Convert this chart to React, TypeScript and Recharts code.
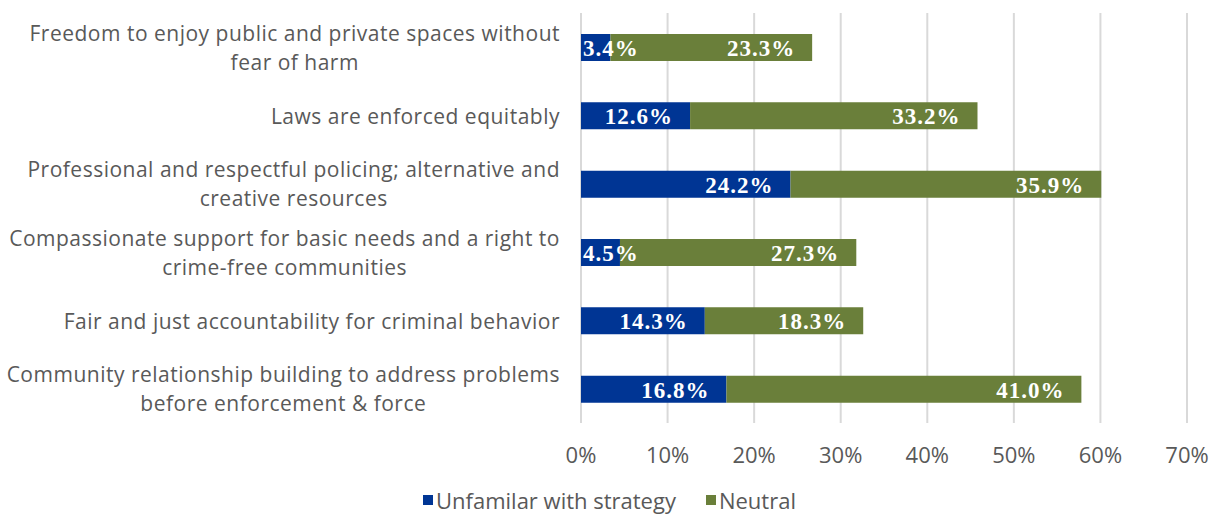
import React from "react"
import { Bar, BarChart, CartesianGrid, LabelList, XAxis, YAxis } from "recharts"

document.body.style.margin = "0"

const categoryLines = [
  ["Freedom to enjoy public and private spaces without", "fear of harm"],
  ["Laws are enforced equitably"],
  ["Professional and respectful policing; alternative and", "creative resources"],
  ["Compassionate support for basic needs and a right to", "crime-free communities"],
  ["Fair and just accountability for criminal behavior"],
  ["Community relationship building to address problems", "before enforcement & force"],
]
const categories = categoryLines.map((l) => l.join(" "))
const unfamiliar = [3.4, 12.6, 24.2, 4.5, 14.3, 16.8]
const neutral = [23.3, 33.2, 35.9, 27.3, 18.3, 41.0]
const xTicks = [0, 10, 20, 30, 40, 50, 60, 70]
const seriesNames = ["Unfamilar with strategy", "Neutral"]

const BLUE = "#003594"
const GREEN = "#6a7f3a"
const TEXT = "#595959"
const SANS = "'Open Sans', Lato, sans-serif"
const SERIF = "'Liberation Serif', 'DejaVu Serif', serif"

const data = categories.map((name, i) => ({
  name,
  unfamiliar: unfamiliar[i],
  neutral: neutral[i],
}))

let ctx: CanvasRenderingContext2D | null = null
function measure(text: string, font: string, spacing = 0) {
  if (!ctx) ctx = document.createElement("canvas").getContext("2d")
  if (!ctx) return text.length * 10
  ctx.font = font
  return ctx.measureText(text).width + spacing * text.length
}

const CAT_SIZE = 21
const CAT_SPACING = 0.5
const LABEL_SIZE = 23
const LABEL_SPACING = 1

// wrapped category label, lines centred on each other, block right-aligned to the plot
function CategoryTick(props: any) {
  const { y, payload } = props
  const idx = categories.indexOf(payload.value)
  const lines = categoryLines[idx] || [payload.value]
  const widths = lines.map((l) => measure(l, `${CAT_SIZE}px ${SANS}`, CAT_SPACING))
  const maxW = Math.max(...widths)
  const cx = 560 - maxW / 2
  const lh = 29
  const start = y - ((lines.length - 1) * lh) / 2
  return (
    <g>
      {lines.map((l, i) => (
        <text
          key={i}
          x={cx}
          y={start + i * lh}
          textAnchor="middle"
          dominantBaseline="central"
          fill={TEXT}
          fontSize={CAT_SIZE}
          fontFamily={SANS}
          letterSpacing={CAT_SPACING}
        >
          {l}
        </text>
      ))}
    </g>
  )
}

function SegmentLabel(props: any) {
  const { x, y, width, height, value } = props
  const text = `${Number(value).toFixed(1)}%`
  const tw = measure(text, `bold ${LABEL_SIZE}px ${SERIF}`, LABEL_SPACING)
  const pad = 17
  const fits = width >= tw + pad + 2
  const tx = fits ? x + width - pad : x + 2
  return (
    <text
      x={tx}
      y={y + height / 2 + 1}
      textAnchor={fits ? "end" : "start"}
      dominantBaseline="central"
      fill="#ffffff"
      fontSize={LABEL_SIZE}
      fontWeight="bold"
      fontFamily={SERIF}
      letterSpacing={LABEL_SPACING}
    >
      {text}
    </text>
  )
}

function ChartLegend() {
  const colors = [BLUE, GREEN]
  return (
    <div
      style={{
        position: "absolute",
        top: 486,
        left: 0,
        width: 1219,
        display: "flex",
        justifyContent: "center",
        gap: 30,
        fontFamily: SANS,
        fontSize: 22,
        lineHeight: "28px",
        color: TEXT,
      }}
    >
      {seriesNames.map((label, i) => (
        <div key={label} style={{ display: "flex", alignItems: "center" }}>
          <span style={{ display: "inline-block", width: 10, height: 10, background: colors[i], marginRight: 3 }} />
          <span>{label}</span>
        </div>
      ))}
    </div>
  )
}

export default function App() {
  return (
    <div style={{ position: "relative", width: 1219, height: 515 }}>
      <BarChart
        width={1219}
        height={515}
        data={data}
        layout="vertical"
        margin={{ top: 13, right: 32, left: 0, bottom: 62 }}
      >
        <CartesianGrid horizontal={false} stroke="#d9d9d9" strokeWidth={2} />
        <XAxis
          type="number"
          domain={[0, 70]}
          ticks={xTicks}
          tickFormatter={(v) => `${v}%`}
          axisLine={false}
          tickLine={false}
          tickMargin={18}
          height={30}
          tick={{ fill: TEXT, fontSize: 22, fontFamily: SANS }}
          interval={0}
        />
        <YAxis
          type="category"
          dataKey="name"
          width={581}
          axisLine={false}
          tickLine={false}
          tick={<CategoryTick />}
          interval={0}
        />
        <Bar dataKey="unfamiliar" stackId="a" fill={BLUE} barSize={27} isAnimationActive={false} name={seriesNames[0]}>
          <LabelList dataKey="unfamiliar" content={<SegmentLabel />} />
        </Bar>
        <Bar dataKey="neutral" stackId="a" fill={GREEN} barSize={27} isAnimationActive={false} name={seriesNames[1]}>
          <LabelList dataKey="neutral" content={<SegmentLabel />} />
        </Bar>
      </BarChart>
      <ChartLegend />
    </div>
  )
}
